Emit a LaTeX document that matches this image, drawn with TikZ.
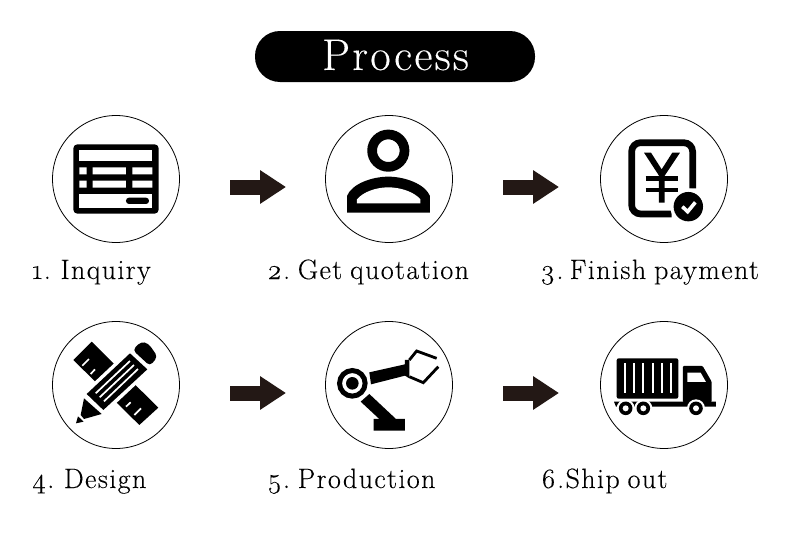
\documentclass[tikz,border=0pt]{standalone}
\usepackage{fontspec}
\setmainfont{Latin Modern Roman}[Numbers=OldStyle,LetterSpace=5,FakeBold=0.2,WordSpace=0.8]
\usetikzlibrary{arrows.meta}
\definecolor{arrowdark}{HTML}{231815}
\tikzset{
  x=1pt,y=-1pt,
  ring/.style={circle,draw=black,line width=0.8pt,minimum size=127pt,inner sep=0pt},
  caption/.style={anchor=base west,inner sep=0pt,font=\fontsize{28}{30}\selectfont,text=black},
  blockarrow/.style={arrowdark,line width=15pt,-{Triangle[length=26pt,width=32pt]}},
  zoomA/.style={shift={(40,105)},x=0.3333pt,y=-0.3333pt},
  zoomB/.style={shift={(315,110)},x=0.3333pt,y=-0.3333pt},
  zoomC/.style={shift={(590,105)},x=0.3333pt,y=-0.3333pt},
  zoomD/.style={shift={(40,315)},x=0.3333pt,y=-0.3333pt},
  zoomE/.style={shift={(315,315)},x=0.3333pt,y=-0.3333pt},
  zoomF/.style={shift={(590,315)},x=0.3333pt,y=-0.3333pt},
}
\begin{document}
\begin{tikzpicture}
\useasboundingbox (0,0) rectangle (790,538);
\fill[white] (0,0) rectangle (790,538);
% title
\node[fill=black,rounded corners=25pt,minimum width=280pt,minimum height=51pt,inner sep=0pt] (titlebar) at (395,56.5) {};
\node[anchor=base,inner sep=0pt,text=white,font=\fontsize{44.5}{50}\selectfont] (title) at (395.5,70) {Process};
% circles
\node[ring] (c1) at (116,179) {};
\node[ring] (c2) at (389,179) {};
\node[ring] (c3) at (664,179) {};
\node[ring] (c4) at (116,385) {};
\node[ring] (c5) at (389,385) {};
\node[ring] (c6) at (664,385) {};
% arrows
\coordinate (a1s) at (230,187); \coordinate (a1e) at (286,187);
\coordinate (a2s) at (503,187); \coordinate (a2e) at (559,187);
\coordinate (a3s) at (230,393); \coordinate (a3e) at (286,393);
\coordinate (a4s) at (503,393); \coordinate (a4e) at (559,393);
\draw[blockarrow] (a1s) -- (a1e);
\draw[blockarrow] (a2s) -- (a2e);
\draw[blockarrow] (a3s) -- (a3e);
\draw[blockarrow] (a4s) -- (a4e);
% captions
\node[caption] (t1) at (32,279) {1.\kern-1.5pt{} Inquiry};
\node[caption] (t2) at (267,279) {2.\kern-3.5pt{} Get quotation};
\node[caption] (t3) at (540,279) {3.\kern-5pt{} Finish payment};
\node[caption] (t4) at (32,488) {4.\kern-1.5pt{} Design};
\node[caption] (t5) at (267,488) {5.\kern-3.5pt{} Production};
\node[caption] (t6) at (541,488) {6.Ship out};
% icon 1: form
\begin{scope}[zoomA]
\fill[black,rounded corners=4pt] (100,118) rectangle (356,326);
\fill[white] (118,136) rectangle (337,167);
\fill[white] (118,187) rectangle (140,208) (158,187) rectangle (258,208) (277,187) rectangle (337,208);
\fill[white] (118,227) rectangle (140,248) (158,227) rectangle (258,248) (277,227) rectangle (337,248);
\fill[white] (118,266) rectangle (337,308);
\fill[black,rounded corners=3pt] (258,278) rectangle (327,297);
\end{scope}
% icon 2: person
\begin{scope}[zoomB]
\draw[black,line width=9.7pt] (220,122) circle[radius=16.2pt];
\fill[black] (96,308) -- (96,258) .. controls (110,222) and (170,200) .. (220,200) .. controls (270,200) and (330,222) .. (345,258) -- (345,308) -- cycle;
\fill[white] (126,280) -- (126,268) .. controls (145,245) and (185,232) .. (220,232) .. controls (255,232) and (297,245) .. (316,268) -- (316,280) -- cycle;
\end{scope}
% icon 3: receipt
\begin{scope}[zoomC]
\draw[black,line width=6.7pt,rounded corners=9pt] (308,250) -- (308,113) -- (125,113) -- (125,327) -- (245,327);
\fill[black] (162,143) -- (183,143) -- (215,193) -- (247,143) -- (270,143) -- (224,212) -- (224,293) -- (207,293) -- (207,212) -- cycle;
\draw[black,line width=4.8pt] (167,220) -- (263,220) (167,255) -- (263,255);
\fill[white] (295,305) circle[radius=18pt];
\fill[black] (295,305) circle[radius=14.7pt];
\draw[white,line width=3.6pt] (277,305) -- (293,320) -- (316,292);
\end{scope}
% icon 4: pencil and ruler
\begin{scope}[zoomD]
\fill[black] (155,80) -- (355,278) -- (298,330) -- (100,135) -- cycle;
\draw[white,line width=1.7pt] (127,152) -- (147,132) (152,177) -- (165,163) (258,275) -- (272,262) (283,300) -- (303,280);
\fill[white] (130,232) -- (265,105) -- (332,168) -- (196,295) -- (100,335) -- (120,250) -- cycle;
\fill[black] (270,115) -- (322,163) -- (190,285) -- (140,237) -- cycle;
\fill[black,rounded corners=4pt] (278,105) -- (303,80) -- (325,85) -- (353,125) -- (330,153) -- cycle;
\fill[black] (132,250) -- (185,297) -- (132,312) -- (122,300) -- cycle;
\fill[black] (114,304) -- (131,320) -- (108,325) -- cycle;
\draw[white,line width=1.7pt] (167,235) -- (270,138) (179,247) -- (282,150) (192,259) -- (294,162);
\end{scope}
% icon 5: robot arm
\begin{scope}[zoomE]
\draw[black,line width=5pt] (112,205) circle[radius=12.8pt];
\fill[black] (112,205) circle[radius=6.3pt];
\fill[black] (163,172) -- (270,148) -- (270,135) -- (283,135) -- (283,190) -- (270,182) -- (168,208) -- cycle;
\draw[black,line width=2.8pt] (283,135) -- (305,108) -- (365,130);
\draw[black,line width=2.8pt] (283,185) -- (325,203) -- (370,155);
\fill[black] (137,260) -- (163,237) -- (243,312) -- (270,312) -- (270,347) -- (176,347) -- (176,312) -- (193,312) -- cycle;
\end{scope}
% icon 6: truck
\begin{scope}[zoomF]
\fill[black,rounded corners=2pt] (80,130) rectangle (265,251);
\foreach \sx in {104,132,160,188,216,244} \fill[white] (\sx-3,144) rectangle (\sx+3,234);
\fill[black,rounded corners=1pt] (279,153) -- (338,153) -- (365,200) -- (365,262) -- (279,262) -- cycle;
\fill[white] (292,173) -- (332,173) -- (348,201) -- (292,201) -- cycle;
\fill[black] (72,260) -- (378,260) -- (378,275) -- (78,275) -- cycle;
\foreach \wx in {107,160,318} {
  \fill[white] (\wx,280) circle[radius=9pt];
  \fill[black] (\wx,280) circle[radius=6.8pt];
  \fill[white] (\wx,280) circle[radius=3pt];
}
\end{scope}
\end{tikzpicture}
\end{document}
